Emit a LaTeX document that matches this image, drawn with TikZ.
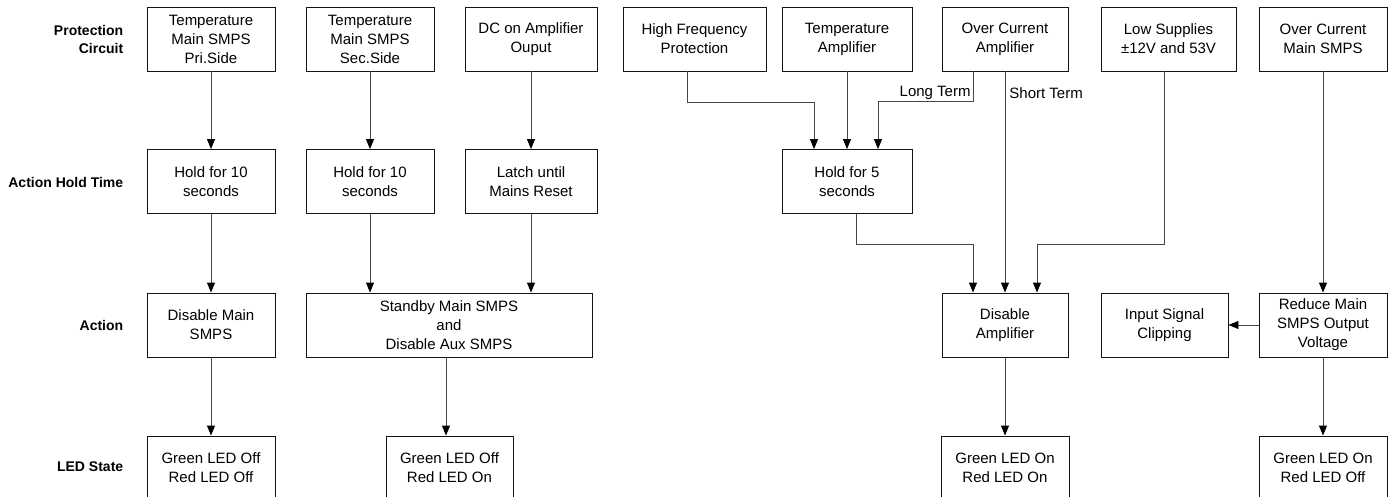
\documentclass[tikz,border=0pt]{standalone}
\usepackage{fontspec}
\setmainfont{Liberation Sans}
\usetikzlibrary{arrows.meta,positioning,calc}
\definecolor{ink}{RGB}{20,20,20}
\definecolor{wire}{RGB}{70,70,70}
\tikzset{
  box/.style={draw=ink, inner sep=0pt, minimum width=128pt, minimum height=64pt, align=center, font=\fontsize{15}{19}\selectfont},
  flow/.style={-{Triangle[length=10pt,width=8pt,color=black]}, color=wire, line width=0.9pt},
  lbl/.style={font=\fontsize{15}{17}\selectfont, text=black, inner sep=2pt},
  rowname/.style={anchor=east, align=right, font=\fontsize{14}{18}\bfseries\selectfont},
}

\begin{document}
\begin{tikzpicture}[x=1pt, y=-1pt, line width=0.9pt]
  \useasboundingbox (0,0) rectangle (1390,497);
  % row names
  \node[rowname] (rprot) at (127,39) {Protection\\Circuit};
  \node[rowname] (rhold) at (127,182) {Action Hold Time};
  \node[rowname] (ract) at (127,325) {Action};
  \node[rowname] (rled) at (127,467) {LED State};
  % protection circuits
  \node[box] (tpri) at (211,39) {Temperature\\Main SMPS\\Pri.Side};
  \node[box] (tsec) at (370,39) {Temperature\\Main SMPS\\Sec.Side};
  \node[box, minimum width=132pt] (dc) at (531,39) {DC on Amplifier\\Ouput};
  \node[box, minimum width=143pt] (hf) at (694.5,39) {High Frequency\\Protection};
  \node[box, minimum width=130pt] (tamp) at (847,39) {Temperature\\Amplifier};
  \node[box, minimum width=126pt] (ocamp) at (1005,39) {Over Current\\Amplifier};
  \node[box, minimum width=135pt] (lowsup) at (1168.5,39) {Low Supplies\\±12V and 53V};
  \node[box] (ocmain) at (1323,39) {Over Current\\Main SMPS};
  % hold times
  \node[box] (hpri) at (211,181.5) {Hold for 10\\seconds};
  \node[box] (hsec) at (370,181.5) {Hold for 10\\seconds};
  \node[box, minimum width=132pt] (latch) at (531,181.5) {Latch until\\Mains Reset};
  \node[box, minimum width=130pt] (hold) at (847,181.5) {Hold for 5\\seconds};
  % actions
  \node[box] (dismain) at (211,325) {Disable Main\\SMPS};
  \node[box, minimum width=286pt] (stby) at (449,325) {Standby Main SMPS\\and\\Disable Aux SMPS};
  \node[box, minimum width=126pt] (disamp) at (1005,325) {Disable\\Amplifier};
  \node[box, minimum width=127pt] (clip) at (1164.5,325) {Input Signal\\Clipping};
  \node[box] (reduce) at (1323,325) {Reduce Main\\SMPS Output\\Voltage};
  % led states
  \node[box] (ledoo) at (211,468) {Green LED Off\\Red LED Off};
  \node[box, minimum width=127pt] (ledor) at (449.5,468) {Green LED Off\\Red LED On};
  \node[box] (ledrr) at (1005,468) {Green LED On\\Red LED On};
  \node[box] (ledgo) at (1323,468) {Green LED On\\Red LED Off};

  \draw[flow] (tpri) -- (hpri);
  \draw[flow] (hpri) -- (dismain);
  \draw[flow] (dismain) -- (ledoo);
  \draw[flow] (tsec) -- (hsec);
  \draw[flow] (hsec.south) -- (hsec.south |- stby.north);
  \draw[flow] (dc) -- (latch);
  \draw[flow] (latch.south) -- (latch.south |- stby.north);
  \draw[flow] ([xshift=-3]stby.south) -- ([xshift=-3]stby.south |- ledor.north);
  \draw[flow] ([xshift=-7]hf.south) |- ([xshift=-33,yshift=47]hold.north) -- ([xshift=-33]hold.north);
  \draw[flow] (tamp.south) -- (tamp.south |- hold.north);
  \draw[flow] ([xshift=-32]ocamp.south) |- node[lbl, anchor=south east, pos=0.5, yshift=-1pt] {Long Term} ([xshift=31,yshift=48]hold.north) -- ([xshift=31]hold.north);
  \draw[flow] (ocamp) -- node[lbl, right, pos=0.1, xshift=2pt] {Short Term} (disamp);
  \draw[flow] ([xshift=9]hold.south) |- ([xshift=-32,yshift=48]disamp.north) -- ([xshift=-32]disamp.north);
  \draw[flow] ([xshift=-4]lowsup.south) |- ([xshift=32,yshift=48]disamp.north) -- ([xshift=32]disamp.north);
  \draw[flow] (disamp) -- (ledrr);
  \draw[flow] (ocmain) -- (reduce);
  \draw[flow] (reduce) -- (clip);
  \draw[flow] (reduce) -- (ledgo);
\end{tikzpicture}
\end{document}
